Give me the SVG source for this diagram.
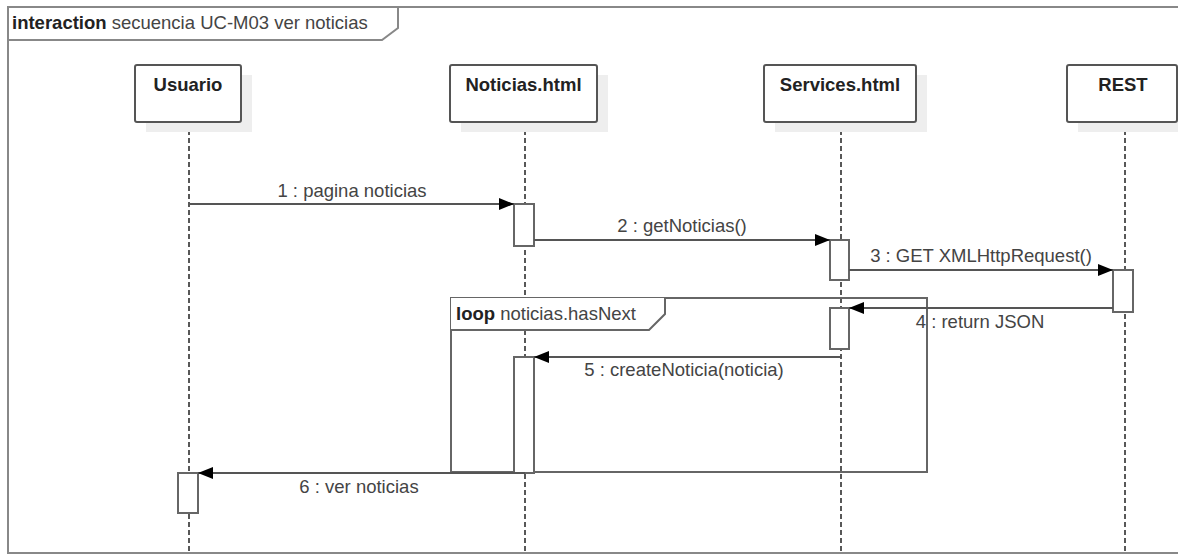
<svg xmlns="http://www.w3.org/2000/svg" width="1178" height="554" viewBox="0 0 1178 554">
  <style>
    text { font-family: "Liberation Sans", Arial, sans-serif; font-size: 18.5px; }
    .head { font-weight: bold; fill: #222; text-anchor: middle; }
    .kw { font-weight: bold; fill: #222; }
    .lbl { fill: #444; }
    .msgl { fill: #444; text-anchor: middle; }
    .box { fill: #fff; stroke: #555; stroke-width: 2; }
    .shadow { fill: #eeeeee; stroke: none; }
    .life { stroke: #222; stroke-width: 1.5; stroke-dasharray: 5 3; fill: none; }
    .act { fill: #fff; stroke: #666; stroke-width: 2; }
    .msg { stroke: #555; stroke-width: 2; fill: none; marker-end: url(#arrow); }
    .frame { fill: none; stroke: #888; stroke-width: 2; }
    .loop { fill: none; stroke: #666; stroke-width: 2; }
    .tab { fill: #fff; stroke: none; }
  </style>
  <defs>
    <marker id="arrow" markerUnits="userSpaceOnUse" markerWidth="16" markerHeight="13" refX="15" refY="6" orient="auto">
      <path d="M0,0 L15,6 L0,12 z" fill="#000"/>
    </marker>
  </defs>

  <rect width="1178" height="554" fill="#fff"/>

  <!-- interaction frame -->
  <g id="frame">
    <rect class="frame" x="8" y="7" width="1180" height="546"/>
    <path class="frame" d="M8,40 L382,40 L398,28 L398,7"/>
    <text x="12" y="29"><tspan class="kw">interaction</tspan><tspan class="lbl"> secuencia UC-M03 ver noticias</tspan></text>
  </g>

  <!-- lifelines -->
  <g id="lifelines">
    <line class="life" x1="189" y1="122" x2="189" y2="553"/>
    <line class="life" x1="525" y1="122" x2="525" y2="553"/>
    <line class="life" x1="841" y1="122" x2="841" y2="553"/>
    <line class="life" x1="1125" y1="122" x2="1125" y2="553"/>
  </g>

  <!-- participants -->
  <g id="usuario">
    <rect class="shadow" x="146" y="75" width="106" height="57"/>
    <rect class="box" x="135" y="65" width="106" height="57" rx="2"/>
    <text class="head" x="188" y="91">Usuario</text>
  </g>
  <g id="noticias">
    <rect class="shadow" x="461" y="75" width="147" height="57"/>
    <rect class="box" x="450" y="65" width="147" height="57" rx="2"/>
    <text class="head" x="523.5" y="91">Noticias.html</text>
  </g>
  <g id="services">
    <rect class="shadow" x="775" y="75" width="152" height="57"/>
    <rect class="box" x="764" y="65" width="152" height="57" rx="2"/>
    <text class="head" x="840" y="91">Services.html</text>
  </g>
  <g id="rest">
    <rect class="shadow" x="1078" y="75" width="110" height="57"/>
    <rect class="box" x="1067" y="65" width="110" height="57" rx="2"/>
    <text class="head" x="1123" y="91">REST</text>
  </g>

  <!-- loop fragment -->
  <g id="loop">
    <rect class="loop" x="451" y="298" width="476" height="174"/>
    <path class="tab" d="M451,298 L665,298 L665,314 L649,330 L451,330 z"/>
    <path class="loop" d="M451,330 L649,330 L665,314 L665,298"/>
    <text x="456" y="320"><tspan class="kw">loop</tspan><tspan class="lbl"> noticias.hasNext</tspan></text>
  </g>

  <!-- activations -->
  <g id="activations">
    <rect class="act" x="514" y="204" width="20" height="42"/>
    <rect class="act" x="830" y="240" width="19" height="40"/>
    <rect class="act" x="1113" y="270" width="20" height="42"/>
    <rect class="act" x="830" y="308" width="19" height="41"/>
    <rect class="act" x="514" y="357" width="20" height="116"/>
    <rect class="act" x="178" y="473" width="20" height="40"/>
  </g>

  <!-- messages -->
  <g id="connectors">
    <line class="msg" x1="190" y1="204" x2="514" y2="204"/>
    <text class="msgl" x="352" y="197">1 : pagina noticias</text>

    <line class="msg" x1="534" y1="240" x2="830" y2="240"/>
    <text class="msgl" x="682" y="232">2 : getNoticias()</text>

    <line class="msg" x1="849" y1="270" x2="1113" y2="270"/>
    <text class="msgl" x="981" y="262">3 : GET XMLHttpRequest()</text>

    <line class="msg" x1="1113" y1="308" x2="849" y2="308"/>
    <text class="msgl" x="980" y="328">4 : return JSON</text>

    <line class="msg" x1="841" y1="357" x2="534" y2="357"/>
    <text class="msgl" x="684" y="376">5 : createNoticia(noticia)</text>

    <line class="msg" x1="525" y1="473" x2="198" y2="473"/>
    <text class="msgl" x="359" y="493">6 : ver noticias</text>
  </g>
</svg>
